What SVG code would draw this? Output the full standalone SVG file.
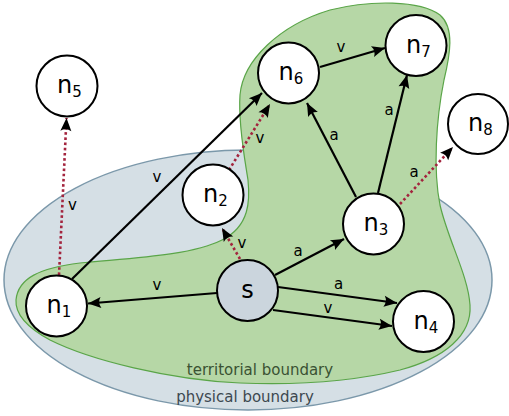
<svg xmlns="http://www.w3.org/2000/svg" width="509" height="416" viewBox="0 0 509 416">
<style>
.node{fill:#fff;stroke:#000;stroke-width:2}
.src{fill:#cbd5dd;stroke:#000;stroke-width:2}
.nl{font-family:"DejaVu Sans",sans-serif;font-size:24px;fill:#000}
.sub{font-size:15px}
.edge{stroke:#000;stroke-width:2.2;fill:none;marker-end:url(#arr)}
.dot{stroke:#a3243e;stroke-width:2.6;stroke-dasharray:2.6,2.6;fill:none;marker-end:url(#arr)}
.el{font-family:"DejaVu Sans",sans-serif;font-size:15px;fill:#000;text-anchor:middle}
.bl{font-family:"DejaVu Sans",sans-serif;font-size:15px;text-anchor:middle}
</style>
<defs>
<marker id="arr" markerUnits="userSpaceOnUse" markerWidth="16" markerHeight="12" refX="14" refY="6" orient="auto" overflow="visible">
<path d="M14,6 L1,0.5 Q4.5,6 1,11.5 Z" fill="#000"/>
</marker>
</defs>
<g id="physical-boundary">
<ellipse cx="248" cy="280" rx="244" ry="130" fill="#d5dfe5" stroke="#7b98aa" stroke-width="1.5"/>
</g>
<g id="territorial-boundary">
<path d="M16 300 C18 278,40 268,80 263 C130 258,190 256,222 240 C250 226,250 200,248 180 C245 160,238 125,240 95 C243 60,280 25,330 10 C370 0,420 0,440 15 C455 28,450 55,444 80 C436 120,433 170,440 205 C448 240,468 275,470 305 C472 335,445 358,400 370 C350 382,290 385,240 383 C170 380,90 360,50 340 C28 328,15 315,16 300 Z" fill="#b6d7a6" stroke="#5aa548" stroke-width="1.2"/>
</g>
<text class="bl" x="260" y="375" fill="#3a5233">territorial boundary</text>
<text class="bl" x="245" y="402" fill="#3d4850">physical boundary</text>
<g id="connectors">
<line class="dot" x1="59" y1="275" x2="66.5" y2="118"/>
<line class="edge" x1="72" y1="279" x2="262" y2="93"/>
<line class="dot" x1="229" y1="170" x2="270" y2="104"/>
<line class="dot" x1="240" y1="259" x2="222" y2="228"/>
<line class="edge" x1="217" y1="293" x2="88" y2="303.5"/>
<line class="edge" x1="275" y1="275" x2="344" y2="239"/>
<line class="edge" x1="278" y1="287" x2="397" y2="303"/>
<line class="edge" x1="273" y1="310" x2="392" y2="326"/>
<line class="edge" x1="356" y1="197" x2="307" y2="103"/>
<line class="edge" x1="378" y1="193" x2="407" y2="75"/>
<line class="dot" x1="400" y1="204" x2="453" y2="147"/>
<line class="edge" x1="320" y1="67" x2="385" y2="48"/>
</g>
<g id="edge-labels">
<text class="el" x="72.5" y="210">v</text>
<text class="el" x="157" y="182">v</text>
<text class="el" x="260" y="143">v</text>
<text class="el" x="242" y="248">v</text>
<text class="el" x="157" y="290">v</text>
<text class="el" x="298" y="256">a</text>
<text class="el" x="338.5" y="289">a</text>
<text class="el" x="328" y="313">v</text>
<text class="el" x="334" y="140">a</text>
<text class="el" x="389" y="115">a</text>
<text class="el" x="414" y="177">a</text>
<text class="el" x="341" y="52">v</text>
</g>
<g id="n1"><circle class="node" cx="56.5" cy="306" r="30.5"/><text class="nl" x="46.5" y="313">n<tspan class="sub" dy="4">1</tspan></text></g>
<g id="n2"><circle class="node" cx="213" cy="195" r="30.5"/><text class="nl" x="203" y="202">n<tspan class="sub" dy="4">2</tspan></text></g>
<g id="n3"><circle class="node" cx="373.5" cy="224" r="30.5"/><text class="nl" x="363.5" y="231">n<tspan class="sub" dy="4">3</tspan></text></g>
<g id="n4"><circle class="node" cx="423.5" cy="321.5" r="30.5"/><text class="nl" x="413.5" y="328.5">n<tspan class="sub" dy="4">4</tspan></text></g>
<g id="n5"><circle class="node" cx="67" cy="86" r="30.5"/><text class="nl" x="57" y="93">n<tspan class="sub" dy="4">5</tspan></text></g>
<g id="n6"><circle class="node" cx="288.5" cy="73" r="30.5"/><text class="nl" x="278.5" y="80">n<tspan class="sub" dy="4">6</tspan></text></g>
<g id="n7"><circle class="node" cx="416" cy="45.5" r="30.5"/><text class="nl" x="406" y="52.5">n<tspan class="sub" dy="4">7</tspan></text></g>
<g id="n8"><circle class="node" cx="478" cy="124" r="30"/><text class="nl" x="468" y="131">n<tspan class="sub" dy="4">8</tspan></text></g>
<g id="s"><circle class="src" cx="247.5" cy="290.5" r="30.5"/><text class="nl" x="247.5" y="297.5" text-anchor="middle">s</text></g>
</svg>
